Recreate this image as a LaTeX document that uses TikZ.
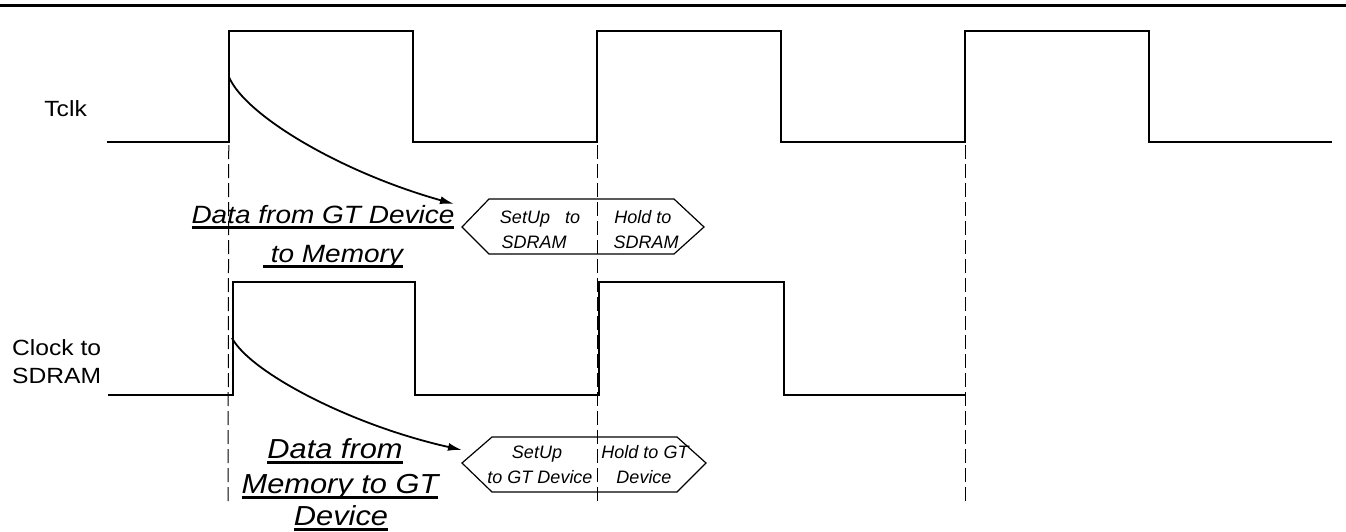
\documentclass[tikz,border=0pt]{standalone}
\usepackage{fontspec}
\setmainfont{Liberation Sans}
\newfontfamily\widefont[FakeStretch=1.12]{Liberation Sans}
\usetikzlibrary{arrows.meta}
\newcommand\myul[1]{\setbox0\hbox{#1}\rlap{\vrule width\wd0 height -3pt depth 5.5pt}\box0}
\begin{document}
\begin{tikzpicture}[x=1pt,y=-1pt,
  sig/.style={line width=1.3pt},
  guide/.style={line width=1pt,dash pattern=on 14pt off 5pt},
  hexbox/.style={line width=1.2pt},
  hextxt/.style={font=\fontsize{18}{21}\selectfont\itshape,inner sep=0pt,anchor=base},
  biglbl/.style={inner sep=0pt,anchor=base},
  sidelbl/.style={font=\widefont\fontsize{22}{26}\selectfont,inner sep=0pt},
  arr/.style={line width=1.8pt,-{Latex[length=14pt,width=8pt]}}]
\useasboundingbox (0,0) rectangle (1346,531);
% top rule
\draw[line width=3pt] (0,5.5) -- (1346,5.5);
% Tclk waveform
\draw[sig] (107,142) -- (229,142) -- (229,31) -- (413,31) -- (413,142) -- (597,142) -- (597,31) -- (781,31) -- (781,142) -- (965,142) -- (965,31) -- (1149,31) -- (1149,142) -- (1332,142);
% Clock to SDRAM waveform
\draw[sig] (108,395) -- (233,395) -- (233,282) -- (415,282) -- (415,395) -- (599,395) -- (599,282) -- (784,282) -- (784,395) -- (966,395);
% dashed guides
\draw[guide] (229,31) -- (228,505);
\draw[guide] (597,31) -- (597,505);
\draw[guide] (965,31) -- (965,505);
% side labels
\node[sidelbl,anchor=base east] (tclk) at (87,116) {Tclk};
\node[sidelbl,anchor=base west] (clk1) at (12,355) {Clock to};
\node[sidelbl,anchor=base west] (clk2) at (12,383) {SDRAM};
% hexagon 1
\draw[hexbox] (462,227) -- (489,199) -- (674,199) -- (704,227) -- (674,254) -- (489,254) -- cycle;
\node[hextxt] (h1a) at (540,223) {SetUp\ \ \ to};
\node[hextxt] (h1b) at (534,248) {SDRAM};
\node[hextxt] (h1c) at (643,223) {Hold to};
\node[hextxt] (h1d) at (646,248) {SDRAM};
% hexagon 2
\draw[hexbox] (462,463) -- (492,437) -- (677,437) -- (706,463) -- (677,492) -- (492,492) -- cycle;
\node[hextxt] (h2a) at (537,458) {SetUp};
\node[hextxt] (h2b) at (540,483) {to GT Device};
\node[hextxt] (h2c) at (645,458) {Hold to GT};
\node[hextxt] (h2d) at (644,483) {Device};
% big labels
\node[biglbl,font=\widefont\fontsize{25}{30}\selectfont\itshape] (d1a) at (323,223) {\myul{Data from GT Device}};
\node[biglbl,font=\widefont\fontsize{25}{30}\selectfont\itshape] (d1b) at (333,262) {\myul{\ to Memory}};
\node[biglbl,font=\widefont\fontsize{27.5}{32}\selectfont\itshape] (d2a) at (335,458) {\myul{Data from}};
\node[biglbl,font=\widefont\fontsize{27.5}{32}\selectfont\itshape] (d2b) at (340,493) {\myul{Memory to GT}};
\node[biglbl,font=\widefont\fontsize{27.5}{32}\selectfont\itshape] (d2c) at (341,525) {\myul{Device}};
% arrows
\coordinate (c1s) at (229,77);
\coordinate (c1e) at (454,204);
\draw[arr] (c1s) .. controls (245,115) and (340,172) .. (c1e);
\coordinate (c2s) at (232,338);
\coordinate (c2e) at (462,450);
\draw[arr] (c2s) .. controls (250,372) and (350,425) .. (c2e);
\end{tikzpicture}
\end{document}
